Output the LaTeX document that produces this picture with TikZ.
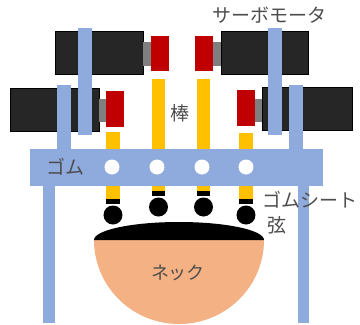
\documentclass[tikz,border=0pt]{standalone}
\usepackage{fontspec}
\newfontfamily\jpfont{Noto Sans CJK JP}
\definecolor{frameblue}{HTML}{8FAADC}
\definecolor{rodyellow}{HTML}{FFC000}
\definecolor{hornred}{HTML}{C00000}
\definecolor{bodyblack}{HTML}{262626}
\definecolor{shaftgray}{HTML}{7F7F7F}
\definecolor{neckorange}{HTML}{F4B183}
\definecolor{labelgray}{HTML}{4D4D4D}
\tikzset{
  motorbody/.style={fill=bodyblack, draw=black, line width=0.5pt},
  shaft/.style={fill=shaftgray},
  horn/.style={fill=hornred},
  frame/.style={fill=frameblue},
  rod/.style={fill=rodyellow},
  sheetcap/.style={fill=black},
  stringball/.style={fill=black},
  hole/.style={fill=white},
  lbl/.style={font=\jpfont\fontsize{19}{19}\selectfont, text=labelgray, inner sep=0pt}
}
\begin{document}
\begin{tikzpicture}[x=1pt,y=-1pt]
\useasboundingbox (0,0) rectangle (360,325);
% servo motors: body, shaft, horn
\filldraw[motorbody] (55,31) rectangle (143,74);
\fill[shaft] (143,42) rectangle (151,66);
\fill[horn] (151,36) rectangle (169,71);
\filldraw[motorbody] (10,88) rectangle (99,131);
\fill[shaft] (99,99) rectangle (106,122);
\fill[horn] (106,91) rectangle (124,127);
\fill[horn] (195,36) rectangle (213,71);
\fill[shaft] (213,42) rectangle (221,66);
\filldraw[motorbody] (221,31) rectangle (308,74);
\fill[horn] (237,90) rectangle (255,126);
\fill[shaft] (255,99) rectangle (263,122);
\filldraw[motorbody] (262,87) rectangle (352,130);
% motor mounts and legs
\fill[frame] (78,28) rectangle (92,135);
\fill[frame] (57,85) rectangle (71,149);
\fill[frame] (43,186) rectangle (55,323);
\fill[frame] (268,28) rectangle (282,135);
\fill[frame] (289,85) rectangle (303,149);
\fill[frame] (298,186) rectangle (309,323);
% rods above the rubber bar
\fill[rod] (106,132) rectangle (120,149);
\fill[rod] (152,79) rectangle (165,149);
\fill[rod] (197,79) rectangle (210,149);
\fill[rod] (239,133) rectangle (253,149);
% rubber bar with holes
\fill[frame] (30,149) rectangle (323,186);
\foreach \x in {112,157,202,246} \fill[hole] (\x,167) circle (7.5);
% rods below the bar, rubber sheet caps, strings
\fill[rod] (106,186) rectangle (120,199);
\fill[sheetcap] (106,199) rectangle (120,204);
\fill[rod] (152,186) rectangle (165,191);
\fill[sheetcap] (152,191) rectangle (165,196);
\fill[rod] (197,186) rectangle (210,191);
\fill[sheetcap] (197,191) rectangle (210,196);
\fill[rod] (239,186) rectangle (253,199);
\fill[sheetcap] (239,199) rectangle (253,204);
\fill[stringball] (113,215) circle (9.5);
\fill[stringball] (158.5,207) circle (9.5);
\fill[stringball] (203.5,207) circle (9.5);
\fill[stringball] (246,215) circle (9.5);
% neck
\fill[neckorange] (94,240) arc[start angle=180, end angle=360, x radius=85, y radius=-84] -- cycle;
\fill[black] (94,240) arc[start angle=180, end angle=0, x radius=85, y radius=-18] -- cycle;
% labels
\node[lbl] (gomu) at (66,167) {ゴム};
\node[lbl] (servo) at (270,15) {サーボモータ};
\node[lbl] (bou) at (180,113) {棒};
\node[lbl, anchor=west] (sheet) at (262,200) {ゴムシート};
\node[lbl] (gen) at (277,225) {弦};
\node[lbl, font=\jpfont\fontsize{18}{18}\selectfont] (neck) at (178,273) {ネック};
\end{tikzpicture}
\end{document}
